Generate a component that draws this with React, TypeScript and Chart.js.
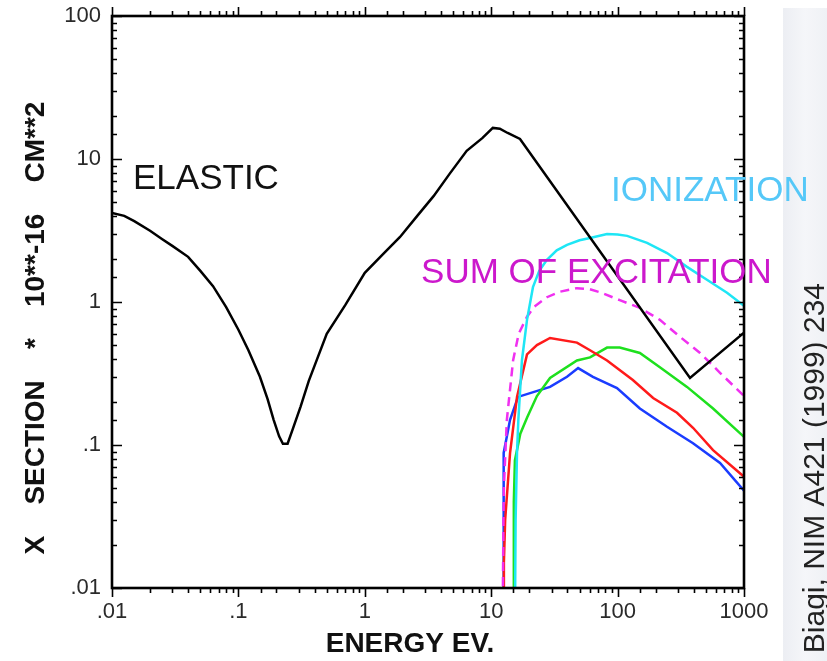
import React, { useEffect, useRef } from 'react';
import { Chart, registerables } from 'chart.js';

Chart.register(...registerables);

// ---- data (energy in eV, cross-section in 10**-16 cm**2) ----
const elasticEnergy = [0.01, 0.0125, 0.015, 0.02, 0.025, 0.03, 0.04, 0.05, 0.063, 0.08, 0.1, 0.12, 0.148, 0.17, 0.19, 0.21, 0.225, 0.245, 0.27, 0.31, 0.36, 0.42, 0.5, 0.7, 1.0, 1.4, 1.9, 2.6, 3.5, 4.7, 6.4, 8.5, 10.3, 11.7, 13.5, 16.9, 374, 1000];
const elasticXS = [4.2, 4.0, 3.68, 3.15, 2.75, 2.47, 2.07, 1.65, 1.29, 0.92, 0.64, 0.46, 0.3, 0.21, 0.15, 0.115, 0.102, 0.102, 0.13, 0.185, 0.28, 0.4, 0.6, 0.95, 1.6, 2.17, 2.85, 4.0, 5.5, 7.9, 11.4, 14.0, 16.5, 16.3, 15.2, 13.8, 0.294, 0.61];

const ionEnergy = [15.4, 15.6, 16.0, 16.4, 17.5, 19.2, 21.4, 24, 27.6, 33, 39.8, 50, 60.5, 82.5, 100, 119, 171, 246, 354, 509, 734, 1000];
const ionXS = [0.005, 0.03, 0.088, 0.15, 0.39, 0.75, 1.27, 1.65, 1.97, 2.3, 2.51, 2.7, 2.8, 2.99, 2.97, 2.9, 2.59, 2.2, 1.76, 1.43, 1.16, 0.94];

const sumExcEnergy = [12.3, 12.5, 12.6, 13.3, 14.9, 16.5, 19.2, 22, 27.6, 35, 47.7, 60, 72.6, 104, 150, 216, 312, 449, 646, 1000];
const sumExcXS = [0.005, 0.03, 0.051, 0.15, 0.39, 0.6, 0.79, 0.93, 1.08, 1.18, 1.25, 1.23, 1.17, 1.03, 0.91, 0.75, 0.57, 0.44, 0.32, 0.22];

const redEnergy = [12.4, 12.6, 12.9, 14.1, 16.0, 19.2, 23, 29.2, 47.7, 60.5, 82.5, 132, 191, 295, 395, 569, 1000];
const redXS = [0.005, 0.015, 0.03, 0.088, 0.217, 0.43, 0.5, 0.56, 0.52, 0.46, 0.39, 0.285, 0.213, 0.168, 0.132, 0.092, 0.06];

const greenEnergy = [15.0, 15.1, 15.4, 17.0, 19.2, 23, 29.2, 47.7, 60.5, 82.5, 104, 150, 216, 354, 569, 1000];
const greenXS = [0.005, 0.04, 0.078, 0.12, 0.155, 0.22, 0.294, 0.39, 0.41, 0.48, 0.48, 0.44, 0.35, 0.255, 0.18, 0.114];

const blueEnergy = [12.4, 12.5, 12.6, 14.1, 16.3, 29.2, 39.8, 48.7, 63.8, 98.9, 150, 246, 395, 646, 1000];
const blueXS = [0.005, 0.04, 0.088, 0.15, 0.217, 0.255, 0.3, 0.345, 0.3, 0.25, 0.18, 0.134, 0.103, 0.075, 0.048];

const xTickValues = [0.01, 0.1, 1, 10, 100, 1000];
const xTickLabels = ['.01', '.1', '1', '10', '100', '1000'];
const yTickValues = [0.01, 0.1, 1, 10, 100];
const yTickLabels = ['.01', '.1', '1', '10', '100'];

const xTitle = 'ENERGY EV.';
const yTitle = 'X    SECTION    *    10**-16    CM**2';
const citation = 'S. Biagi, NIM A421 (1999) 234';

// annotation anchors in data coordinates (energy, cross-section)
const annotations = [
  { text: 'ELASTIC', e: 0.01466, s: 6.17, color: '#111111' },
  { text: 'IONIZATION', e: 88.7, s: 5.08, color: '#55c8f8' },
  { text: 'SUM OF EXCITATION', e: 2.79, s: 1.36, color: '#cc18cc' },
];

const pts = (xs: number[], ys: number[]) => xs.map((x, i) => ({ x, y: ys[i] }));

const isDecade = (v: number) => {
  const l = Math.log10(v);
  return Math.abs(l - Math.round(l)) < 1e-6;
};

const FONT = '"Liberation Sans", Arial, sans-serif';

const decorPlugin = {
  id: 'decor',
  beforeDraw(chart: any) {
    const { ctx, width, height } = chart;
    ctx.save();
    const g = ctx.createLinearGradient(783, 0, width, 0);
    g.addColorStop(0, '#eceef3');
    g.addColorStop(0.5, '#f5f6f9');
    g.addColorStop(1, '#eff1f5');
    ctx.fillStyle = g;
    ctx.fillRect(783, 8, width - 783, height - 8);
    ctx.translate(816, 283);
    ctx.rotate(-Math.PI / 2);
    ctx.font = `30px ${FONT}`;
    ctx.fillStyle = '#222';
    ctx.textAlign = 'right';
    ctx.textBaseline = 'middle';
    ctx.fillText(citation, 0, 0);
    ctx.restore();
  },
  afterDraw(chart: any) {
    const { ctx, chartArea } = chart;
    const { left, right, top, bottom } = chartArea;
    const xs = chart.scales.x;
    const ys = chart.scales.y;
    ctx.save();
    ctx.strokeStyle = '#000';
    ctx.lineWidth = 1.6;
    ctx.beginPath();
    for (const t of ys.ticks) {
      const py = Math.round(ys.getPixelForValue(t.value)) + 0.5;
      const len = isDecade(t.value) ? 10 : 5;
      ctx.moveTo(left, py); ctx.lineTo(left + len, py);
      ctx.moveTo(right, py); ctx.lineTo(right - len, py);
    }
    for (const t of xs.ticks) {
      const px = Math.round(xs.getPixelForValue(t.value)) + 0.5;
      const len = isDecade(t.value) ? 9 : 5;
      ctx.moveTo(px, bottom); ctx.lineTo(px, bottom + len);
      ctx.moveTo(px, top); ctx.lineTo(px, top - len);
    }
    ctx.stroke();
    ctx.lineWidth = 2.6;
    ctx.strokeRect(left, top, right - left, bottom - top);

    // tick labels
    ctx.fillStyle = '#2a2a2a';
    ctx.font = `22px ${FONT}`;
    ctx.textBaseline = 'middle';
    ctx.textAlign = 'right';
    yTickValues.forEach((v, i) => ctx.fillText(yTickLabels[i], left - 11, ys.getPixelForValue(v)));
    ctx.textAlign = 'center';
    xTickValues.forEach((v, i) => ctx.fillText(xTickLabels[i], xs.getPixelForValue(v), bottom + 24));

    // axis titles
    ctx.fillStyle = '#111';
    ctx.font = `bold 28px ${FONT}`;
    ctx.textAlign = 'center';
    ctx.textBaseline = 'middle';
    ctx.fillText(xTitle, 410, 644);
    ctx.save();
    ctx.translate(36, 328);
    ctx.rotate(-Math.PI / 2);
    ctx.fillText(yTitle, 0, 0);
    ctx.restore();

    // annotations
    ctx.font = `35px ${FONT}`;
    ctx.textAlign = 'left';
    ctx.textBaseline = 'alphabetic';
    for (const a of annotations) {
      ctx.fillStyle = a.color;
      ctx.fillText(a.text, xs.getPixelForValue(a.e), ys.getPixelForValue(a.s));
    }
    ctx.restore();
  },
};

export default function App() {
  const ref = useRef<HTMLCanvasElement>(null);
  useEffect(() => {
    if (!ref.current) return;
    const line = (xs: number[], ys: number[], color: string, dash: number[] = []) => ({
      data: pts(xs, ys),
      borderColor: color,
      backgroundColor: color,
      borderWidth: 2.5,
      borderDash: dash,
      pointRadius: 0,
      tension: 0,
      fill: false,
    });
    const chart = new Chart(ref.current, {
      type: 'line',
      data: {
        datasets: [
          { label: 'Elastic', ...line(elasticEnergy, elasticXS, '#000000') },
          { label: 'Ionization', ...line(ionEnergy, ionXS, '#1ee6f5') },
          { label: 'Sum of excitation', ...line(sumExcEnergy, sumExcXS, '#f030f0', [9, 6]) },
          { label: 'Excitation 1', ...line(redEnergy, redXS, '#ff1a1a') },
          { label: 'Excitation 2', ...line(greenEnergy, greenXS, '#1ee01e') },
          { label: 'Excitation 3', ...line(blueEnergy, blueXS, '#1a3cff') },
        ] as any,
      },
      options: {
        animation: false,
        responsive: false,
        devicePixelRatio: 1,
        layout: { padding: { top: 16, right: 83, left: 0, bottom: 0 } },
        plugins: { legend: { display: false }, tooltip: { enabled: false } },
        scales: {
          x: {
            type: 'logarithmic',
            min: 0.01,
            max: 1000,
            grid: { display: false, drawTicks: false },
            border: { display: false },
            ticks: { display: false, autoSkip: false },
            afterFit: (s: any) => { s.height = 73; },
          },
          y: {
            type: 'logarithmic',
            min: 0.01,
            max: 100,
            grid: { display: false, drawTicks: false },
            border: { display: false },
            ticks: { display: false, autoSkip: false },
            afterFit: (s: any) => { s.width = 112; },
          },
        },
      } as any,
      plugins: [decorPlugin],
    });
    return () => chart.destroy();
  }, []);
  return (
    <div style={{ position: 'absolute', left: 0, top: 0, width: 827, height: 661, background: '#fff' }}>
      <canvas ref={ref} width={827} height={661} style={{ display: 'block' }} />
    </div>
  );
}
